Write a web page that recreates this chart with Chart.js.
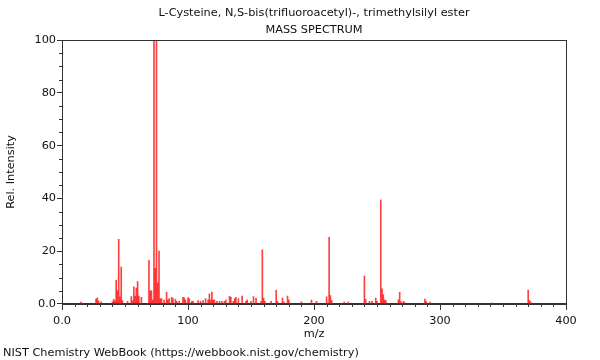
<!DOCTYPE html>
<html>
<head>
<meta charset="utf-8">
<script src="https://cdn.jsdelivr.net/npm/chart.js@4/dist/chart.umd.min.js"></script>
<style>
  html, body { margin: 0; padding: 0; background: #fff; }
  #wrap { width: 600px; height: 360px; }
</style>
</head>
<body>
<div id="wrap"><canvas id="myChart" width="600" height="360"></canvas></div>
<script>
// peaks
var mz = [15, 27, 28, 29, 31, 40, 41, 42, 43, 44, 45, 46, 47, 48, 52, 55, 56, 57, 58, 59,
    60, 61, 63, 69, 70, 71, 72, 73, 74, 75, 76, 77, 78, 79, 81, 83, 84, 85, 87, 88,
    90, 91, 93, 96, 97, 98, 100, 101, 103, 104, 108, 110, 112, 114, 116, 117, 118, 119, 120, 121,
    123, 125, 127, 129, 130, 133, 134, 136, 137, 138, 140, 143, 146, 147, 150, 152, 154, 158, 159, 160,
    161, 166, 170, 171, 175, 176, 179, 180, 190, 198, 202, 210, 212, 213, 214, 224, 227, 240, 241, 244,
    246, 249, 250, 253, 254, 255, 256, 257, 267, 268, 269, 271, 272, 288, 289, 292, 341, 370, 371, 372]
var intensity = [0.7, 1.8, 2.3, 1.2, 0.8, 0.8, 1.8, 1.2, 9, 5, 24.5, 2.7, 14, 1.3, 1, 2.8, 1.2, 6.5, 3, 6,
    8.5, 3, 2.5, 16.5, 5, 5, 1.5, 100, 13.5, 99.5, 8, 20, 2, 2, 1.5, 4.5, 1.5, 2, 2.5, 2,
    1.8, 1, 1, 2.5, 2.3, 1.5, 2.4, 2, 1, 1, 1.3, 1, 1.3, 2, 1.6, 3.8, 1.5, 4.5, 1.5, 1.5,
    1, 1, 1, 1, 1.5, 2.9, 2.5, 1, 2, 2.5, 2, 3, 1, 1.5, 1, 2.8, 2.2, 1, 20.5, 2.2,
    1, 1, 5.2, 1, 2.3, 0.8, 3, 1.5, 0.8, 1.5, 1, 2.7, 25.2, 3.2, 1.4, 0.7, 0.7, 10.6, 1.7, 1,
    1, 2.2, 1, 39.4, 5.7, 3.5, 1.5, 1.3, 1.5, 4.4, 0.8, 1, 0.5, 1.8, 1, 0.7, 0.4, 5.3, 1.3, 0.7]

var xTicks = [0, 100, 200, 300, 400]
var yTicks = [0, 20, 40, 60, 80, 100]

var titleLines = ["L-Cysteine, N,S-bis(trifluoroacetyl)-, trimethylsilyl ester", "MASS SPECTRUM"]
var sourceNote = "NIST Chemistry WebBook (https://webbook.nist.gov/chemistry)"

var points = []
for (var i = 0; i < mz.length; i++) {
    points.push({ x: mz[i], y: intensity[i] })
}

var FS = 11.3
Chart.defaults.font.family = "'DejaVu Sans', sans-serif"
Chart.defaults.font.size = FS
Chart.defaults.color = "#111"

// minor ticks, box round the plot area, and the two heading lines
var frame = {
    id: "frame",
    afterDraw: function (chart) {
        var ctx = chart.ctx
        var a = chart.chartArea
        var xs = chart.scales.x
        var ys = chart.scales.y
        ctx.save()
        ctx.strokeStyle = "#333"
        ctx.lineWidth = 1
        ctx.beginPath()
        for (var v = 0; v <= 400; v += 10) {
            if (v % 100 === 0) continue
            var px = Math.round(xs.getPixelForValue(v)) + 0.5
            ctx.moveTo(px, a.bottom)
            ctx.lineTo(px, a.bottom + 3)
        }
        for (var w = 0; w <= 100; w += 5) {
            if (w % 20 === 0) continue
            var py = Math.round(ys.getPixelForValue(w)) + 0.5
            ctx.moveTo(a.left, py)
            ctx.lineTo(a.left - 3, py)
        }
        ctx.stroke()
        ctx.strokeRect(Math.round(a.left) + 0.5, Math.round(a.top) + 0.5,
            Math.round(a.right - a.left), Math.round(a.bottom - a.top))

        ctx.fillStyle = "#111"
        ctx.font = FS + "px 'DejaVu Sans', sans-serif"
        ctx.textAlign = "center"
        ctx.textBaseline = "middle"
        var cx = (a.left + a.right) / 2
        ctx.fillText(titleLines[0], cx, 13)
        ctx.fillText(titleLines[1], cx, 30)
        ctx.restore()
    }
}

new Chart("myChart", {
    type: "bar",
    data: {
        datasets: [{
            data: points,
            backgroundColor: "rgba(255,0,0,0.75)",
            barThickness: 1,
            grouped: false
        }]
    },
    options: {
        responsive: false,
        animation: false,
        layout: { padding: { left: 3, right: 34, top: 40, bottom: 0 } },
        plugins: {
            legend: { display: false },
            tooltip: { enabled: false },
            title: { display: false },
            subtitle: {
                display: true,
                position: "bottom",
                align: "start",
                text: sourceNote,
                font: { size: FS, lineHeight: 1.2 },
                padding: { top: 2, bottom: 0 },
                color: "#111"
            }
        },
        scales: {
            x: {
                type: "linear",
                min: 0,
                max: 400,
                offset: false,
                afterBuildTicks: function (s) { s.ticks = xTicks.map(function (v) { return { value: v } }) },
                afterFit: function (s) { s.height = 40.5 },
                ticks: {
                    callback: function (v) { return v === 0 ? "0.0" : v },
                    maxRotation: 0,
                    padding: 4
                },
                grid: { drawOnChartArea: false, offset: false, tickLength: 6, color: "#333" },
                border: { color: "#333" },
                title: { display: true, text: "m/z", padding: { top: 0, bottom: 4 } }
            },
            y: {
                min: 0,
                max: 100,
                afterBuildTicks: function (s) { s.ticks = yTicks.map(function (v) { return { value: v } }) },
                afterFit: function (s) { s.width = 59 },
                ticks: {
                    callback: function (v) { return v === 0 ? "0.0" : v },
                    padding: 1
                },
                grid: { drawOnChartArea: false, tickLength: 5, color: "#333" },
                border: { color: "#333" },
                title: { display: true, text: "Rel. Intensity", padding: { top: 1, bottom: 0 } }
            }
        }
    },
    plugins: [frame]
});
</script>
</body>
</html>
